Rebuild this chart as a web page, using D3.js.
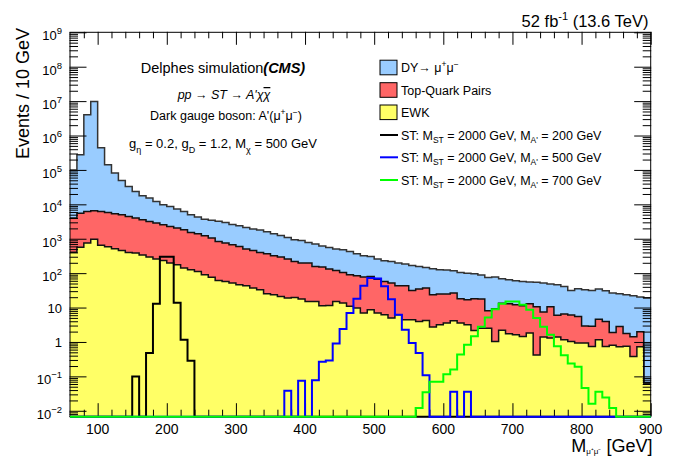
<!DOCTYPE html>
<html><head><meta charset="utf-8">
<script src="https://cdn.jsdelivr.net/npm/d3@7"></script>
<style>
body{margin:0;background:#fff}
svg{display:block}
text{font-family:"Liberation Sans",Arial,Helvetica,sans-serif;fill:#000}
</style>
</head><body>
<svg id="c" width="678" height="458"></svg>
<script>
// ---------------- data ----------------
const binWidth = 10;                       // GeV per bin
const binLow = d3.range(60, 900, binWidth); // lower bin edges (categories)

const ewk = [404, 565, 749, 966, 646, 585, 511, 456, 399, 384,
  335, 293, 257, 234, 196, 175, 141, 125, 112, 90,
  76, 61, 57, 51.5, 46, 43, 36.8, 32.9, 25.2, 23.5,
  21, 18.9, 19.7, 17.7, 15, 15, 11.3, 11.5, 15, 13.5,
  10.9, 9.7, 6.9, 8.6, 6.9, 6.2, 4.95, 6.2, 4.42, 4.42,
  3.94, 4.2, 2.71, 3.16, 3.54, 4.13, 3.54, 3.16, 2.16, 2.5,
  2.5, 1.03, 2.19, 1.73, 1.62, 1.44, 1.81, 0.42, 1.39, 1.3,
  1.39, 1.16, 1.03, 0.93, 0.93, 0.74, 1.16, 0.74, 0.80, 0.73,
  0.75, 0.38, 0.73, 0.064];

const ttbar = [3590, 4940, 5450, 5530, 5550, 5220, 4790, 4510, 4040, 3610,
  3230, 2890, 2590, 2320, 2070, 1870, 1680, 1400, 1280, 1130,
  975, 772, 692, 616, 550, 458, 419, 366, 341, 296,
  272, 238, 198, 178, 181, 141, 139, 119.5, 105, 91.5,
  79, 74, 70, 71.4, 60, 50.8, 46.5, 36.8, 38.6, 27,
  30.6, 32.6, 20.8, 21.5, 21.2, 22.3, 14.5, 13.6, 15.8, 15.2,
  5.6, 8.2, 11.1, 11.2, 10.5, 9.9, 11.2, 10.1, 6.1, 9.2,
  4.6, 5.3, 5.0, 4.6, 2.0, 2.1, 3.4, 3.2, 1.1, 2.1,
  1.0, 1.04, 1.25, 0];

const dy = [96000, 270000, 3990000, 9790000, 434000, 135000, 75700, 44000, 28600, 19700,
  14100, 12000, 9250, 7150, 6430, 5260, 4380, 3450, 2880, 2460,
  2390, 2390, 2220, 1930, 1780, 1630, 1450, 1390, 1230, 1070,
  947, 833, 715, 695, 584, 544, 462, 426, 381, 373,
  336, 282, 243, 225, 190, 172, 166.5, 153, 141, 135.6,
  121.5, 109, 110.5, 100, 98, 90.6, 87, 83, 78, 70,
  67, 68, 55.7, 51, 48, 45.7, 42, 43.5, 44, 37.5,
  40, 34.5, 25.4, 29.7, 30, 28.6, 30, 26.9, 24.5, 22.4,
  21.8, 20.6, 18.2, 18.8];

const sig200 = [0, 0, 0, 0, 0, 0, 0, 0, 0, 0.099,
  0, 0.475, 12.9, 299, 299, 13.8, 1.16, 0.284, 0, 0,
  0, 0, 0, 0, 0, 0, 0, 0, 0, 0,
  0, 0, 0, 0, 0, 0, 0, 0, 0, 0,
  0, 0, 0, 0, 0, 0, 0, 0, 0, 0,
  0, 0, 0, 0, 0, 0, 0, 0, 0, 0,
  0, 0, 0, 0, 0, 0, 0, 0, 0, 0,
  0, 0, 0, 0, 0, 0, 0, 0, 0, 0,
  0, 0, 0, 0];

const sig500 = [0, 0, 0, 0, 0, 0, 0, 0, 0, 0,
  0, 0, 0, 0, 0, 0, 0, 0, 0, 0,
  0, 0, 0, 0, 0, 0, 0, 0, 0, 0,
  0, 0.038, 0, 0.074, 0, 0.077, 0.266, 0.29, 0.9, 2.37,
  6.9, 18, 43, 72, 70, 41.6, 17.4, 6.2, 2.26, 0.93,
  0.475, 0.108, 0, 0, 0, 0.036, 0, 0.036, 0, 0,
  0, 0, 0, 0, 0, 0, 0, 0, 0, 0,
  0, 0, 0, 0, 0, 0, 0, 0, 0, 0,
  0, 0, 0, 0];

const sig700 = [0, 0, 0, 0, 0, 0, 0, 0, 0, 0,
  0, 0, 0, 0, 0, 0, 0, 0, 0, 0,
  0, 0, 0, 0, 0, 0, 0, 0, 0, 0,
  0, 0, 0, 0, 0, 0, 0, 0, 0, 0,
  0, 0, 0, 0, 0, 0, 0, 0, 0, 0,
  0.012, 0.0345, 0.07, 0.07, 0.115, 0.159, 0.43, 0.83, 1.47, 2.77,
  5.1, 8.9, 12.9, 15, 15, 12.1, 8.6, 4.95, 2.77, 1.62,
  0.75, 0.41, 0.237, 0.19, 0.046, 0.016, 0.0357, 0.0242, 0.012, 0,
  0, 0, 0, 0];

const xTickValues = [100, 200, 300, 400, 500, 600, 700, 800, 900];
const xTickLabels = ["100", "200", "300", "400", "500", "600", "700", "800", "900"];
const yTickExponents = [-2, -1, 0, 1, 2, 3, 4, 5, 6, 7, 8, 9];

const stackKeys = ["ewk", "ttbar", "dy"];
const stackColors = {ewk: "#ffff66", ttbar: "#ff6666", dy: "#99ccff"};
const legendStack = [
  {key: "dy", parts: [{t: "DY\u2192 \u03bc"}, {t: "+", fs: 8.5, dy: -5}, {t: "\u03bc", dy: 5}, {t: "\u2212", fs: 8.5, dy: -5}]},
  {key: "ttbar", parts: [{t: "Top-Quark Pairs"}]},
  {key: "ewk", parts: [{t: "EWK"}]}
];
const signals = [
  {data: sig200, color: "#000000", mass: "200"},
  {data: sig500, color: "#0000ff", mass: "500"},
  {data: sig700, color: "#00ff00", mass: "700"}
];

// ---------------- layout ----------------
const svg = d3.select("#c");
const L = 70, R = 650.7, T = 32.3, B = 416.7;
const yMin = Math.pow(10, -2.172);
const x = d3.scaleLinear().domain([60, 900]).range([L, R]);
const y = d3.scaleLog().domain([yMin, 1e9]).range([B, T]);
const yv = v => (v > yMin ? y(v) : B);

function rich(sel, parts) {
  parts.forEach(p => {
    const ts = sel.append("tspan").text(p.t);
    if (p.fs) ts.attr("font-size", p.fs);
    if (p.dy) ts.attr("dy", p.dy);
    if (p.fi) ts.attr("font-style", p.fi);
    if (p.fw) ts.attr("font-weight", p.fw);
    if (p.deco) ts.style("text-decoration", p.deco);
  });
  return sel;
}

// ---------------- stacked histograms ----------------
const rows = binLow.map((lo, i) => ({lo, ewk: ewk[i], ttbar: ttbar[i], dy: dy[i]}));
const layers = d3.stack().keys(stackKeys)(rows);

function withEnd(pts) {
  const last = pts[pts.length - 1];
  return pts.concat([[last[0] + binWidth].concat(last.slice(1))]);
}

const area = d3.area().curve(d3.curveStepAfter)
  .x(d => x(d[0])).y0(d => yv(d[1])).y1(d => yv(d[2]));
const topLine = d3.line().curve(d3.curveStepAfter)
  .x(d => x(d[0])).y(d => yv(d[2]));

layers.forEach(layer => {
  const pts = withEnd(layer.map(d => [d.data.lo, d[0], d[1]]));
  svg.append("path").attr("d", area(pts)).attr("fill", stackColors[layer.key]).attr("stroke", "none");
});
layers.slice().reverse().forEach(layer => {
  const pts = withEnd(layer.map(d => [d.data.lo, d[0], d[1]]));
  svg.append("path").attr("d", topLine(pts)).attr("fill", "none")
    .attr("stroke", layer.key === "dy" ? "#333" : "#111").attr("stroke-width", 1.5);
});

// ---------------- axes (ticks) ----------------
const yMajor = yTickExponents.map(k => Math.pow(10, k));
const yMinor = [];
for (let k = -3; k <= 8; k++) for (let m = 2; m <= 9; m++) {
  const v = m * Math.pow(10, k);
  if (v > yMin && v < 1e9) yMinor.push(v);
}
const xMinor = d3.range(80, 900, 20).filter(v => v % 100 !== 0);

function ticks(axisFn, scale, values, size, tr) {
  const g = svg.append("g").attr("transform", tr)
    .call(axisFn(scale).tickValues(values).tickSize(size).tickFormat(""));
  g.select(".domain").remove();
  g.selectAll("line").attr("stroke", "#000").attr("stroke-width", 1);
  g.selectAll("text").remove();
}
ticks(d3.axisRight, y, yMajor, 17, `translate(${L - 0.5},0)`);
ticks(d3.axisRight, y, yMinor, 8.5, `translate(${L - 0.5},0)`);
ticks(d3.axisLeft, y, yMajor, 17, `translate(${R + 0.5},0)`);
ticks(d3.axisLeft, y, yMinor, 8.5, `translate(${R + 0.5},0)`);
ticks(d3.axisTop, x, xTickValues, 13, `translate(0,${B - 0.5})`);
ticks(d3.axisTop, x, xMinor, 6.5, `translate(0,${B - 0.5})`);
ticks(d3.axisBottom, x, xTickValues, 13, `translate(0,${T - 0.5})`);
ticks(d3.axisBottom, x, xMinor, 6.5, `translate(0,${T - 0.5})`);

svg.append("rect").attr("x", L).attr("y", T).attr("width", R - L).attr("height", B - T)
  .attr("fill", "none").attr("stroke", "#000").attr("stroke-width", 1);

// ---------------- signal histograms ----------------
const sigLine = d3.line().curve(d3.curveStepAfter).x(d => x(d[0])).y(d => yv(d[1]));
signals.forEach(s => {
  const pts = withEnd(binLow.map((lo, i) => [lo, s.data[i]]));
  svg.append("path").attr("d", sigLine(pts)).attr("fill", "none")
    .attr("stroke", s.color).attr("stroke-width", 2);
});

// ---------------- tick labels ----------------
xTickValues.forEach((v, i) => {
  svg.append("text").attr("x", x(v)).attr("y", 434).attr("text-anchor", "middle")
    .attr("font-size", 14).text(xTickLabels[i]);
});
yTickExponents.forEach(k => {
  const yy = y(Math.pow(10, k));
  const t = svg.append("text").attr("x", 62).attr("text-anchor", "end").attr("font-size", 13);
  if (k === 0) { t.attr("y", yy + 5).text("1"); }
  else if (k === 1) { t.attr("y", yy + 5).text("10"); }
  else {
    t.attr("y", yy + 7.8);
    rich(t, [{t: "10"}, {t: k < 0 ? "\u2212" + (-k) : String(k), fs: 9.5, dy: -6}]);
  }
});

// axis titles
svg.append("text").attr("transform", "translate(29,28) rotate(-90)")
  .attr("text-anchor", "end").attr("font-size", 18).text("Events / 10 GeV");
rich(svg.append("text").attr("x", 652.5).attr("y", 451.5).attr("text-anchor", "end").attr("font-size", 18),
  [{t: "M"}, {t: "\u03bc\u207a\u03bc\u207b", fs: 8, dy: 2}, {t: " [GeV]", dy: -2}]);

// lumi label
rich(svg.append("text").attr("x", 648.5).attr("y", 26.5).attr("text-anchor", "end").attr("font-size", 16.5),
  [{t: "52 fb"}, {t: "-1", fs: 11, dy: -6.5}, {t: " (13.6 TeV)", dy: 6.5}]);

// ---------------- annotations ----------------
rich(svg.append("text").attr("x", 223).attr("y", 73).attr("text-anchor", "middle").attr("font-size", 14.5),
  [{t: "Delphes simulation"}, {t: "(CMS)", fw: "bold", fi: "italic"}]);
rich(svg.append("text").attr("x", 224).attr("y", 99).attr("text-anchor", "middle").attr("font-size", 12.5).attr("font-style", "italic"),
  [{t: "pp \u2192 ST \u2192 A'\u03c7"}, {t: "\u03c7", deco: "overline"}]);
rich(svg.append("text").attr("x", 226).attr("y", 119.5).attr("text-anchor", "middle").attr("font-size", 12.5),
  [{t: "Dark gauge boson: A'(\u03bc"}, {t: "+", fs: 8.5, dy: -5}, {t: "\u03bc", dy: 5}, {t: "\u2212", fs: 8.5, dy: -5}, {t: ")", dy: 5}]);
rich(svg.append("text").attr("x", 223).attr("y", 147.5).attr("text-anchor", "middle").attr("font-size", 13),
  [{t: "g"}, {t: "\u03b7", fs: 9, dy: 5}, {t: " = 0.2, g", dy: -5}, {t: "D", fs: 9, dy: 5},
   {t: " = 1.2, M", dy: -5}, {t: "\u03c7", fs: 9, dy: 5}, {t: " = 500 GeV", dy: -5}]);

// ---------------- legend ----------------
const legX = 380, legTextX = 401;
const rowCenters = [67.5, 90, 112.3, 135, 157.3, 180];
legendStack.forEach((d, i) => {
  const cy = rowCenters[i];
  svg.append("rect").attr("x", legX).attr("y", cy - 7.3).attr("width", 17).attr("height", 14.6)
    .attr("fill", stackColors[d.key]).attr("stroke", "#000").attr("stroke-width", 1);
  rich(svg.append("text").attr("x", legTextX).attr("y", cy + 4.5).attr("font-size", 12.5), d.parts);
});
signals.forEach((s, j) => {
  const cy = rowCenters[3 + j];
  svg.append("line").attr("x1", legX).attr("x2", legX + 18).attr("y1", cy).attr("y2", cy)
    .attr("stroke", s.color).attr("stroke-width", 2);
  rich(svg.append("text").attr("x", legTextX).attr("y", cy + 4.5).attr("font-size", 12.5),
    [{t: "ST: M"}, {t: "ST", fs: 8.5, dy: 3.5}, {t: " = 2000 GeV, M", dy: -3.5},
     {t: "A'", fs: 8.5, dy: 3.5}, {t: " = " + s.mass + " GeV", dy: -3.5}]);
});
</script>
</body></html>
